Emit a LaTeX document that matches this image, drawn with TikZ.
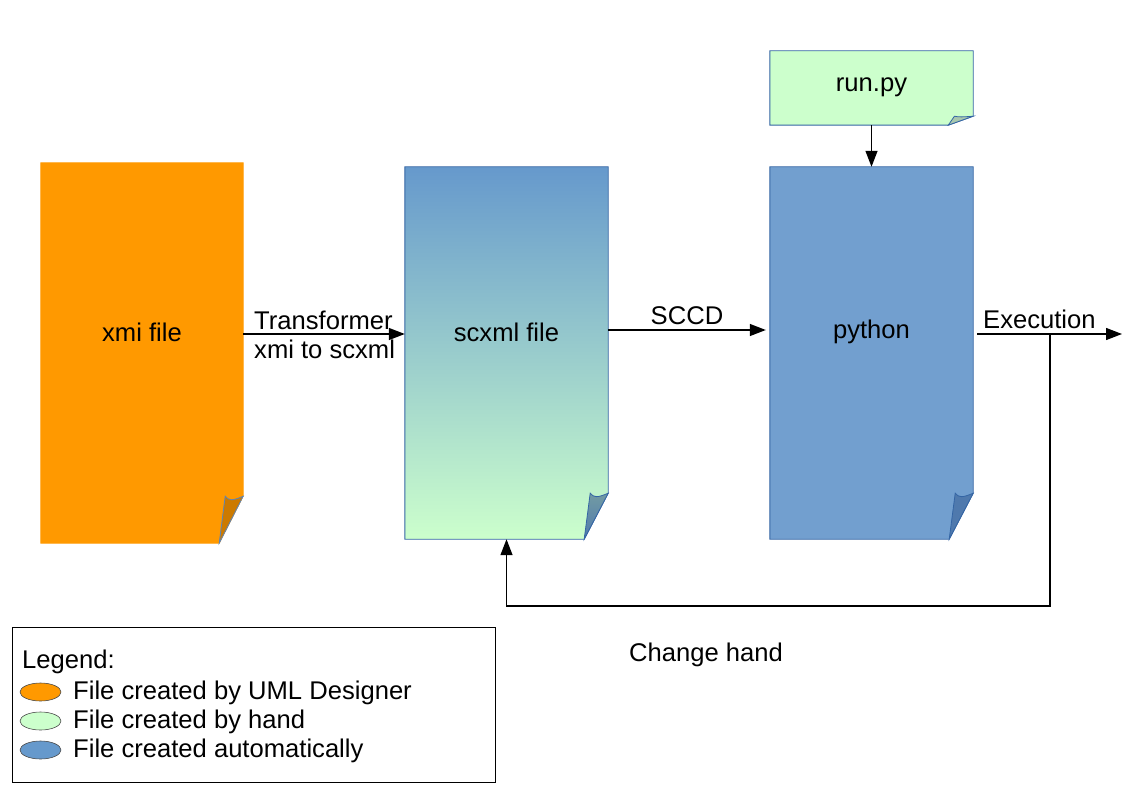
\documentclass[tikz,border=0pt]{standalone}
\usepackage{fontspec}
\setmainfont{Liberation Sans}
\usetikzlibrary{arrows.meta,shapes.geometric}
\definecolor{orng}{HTML}{FF9900}
\definecolor{orngdark}{HTML}{CC7A00}
\definecolor{lgreen}{HTML}{CCFFCC}
\definecolor{sblue}{HTML}{6699CC}
\definecolor{pyblue}{HTML}{729FCF}
\definecolor{bord}{HTML}{3465A4}
\definecolor{flapgreen}{HTML}{A8C8AE}
\definecolor{flapblue}{HTML}{4F79AD}
\newcommand\docshape[5]{%
  \path[#2] (#1.north west) -- (#1.north east) -- ([yshift=#5]#1.south east)
    -- ([xshift=-#4]#1.south east) -- (#1.south west) -- cycle;
  \path[#3] ([xshift=-#4]#1.south east) -- ([xshift=-0.75*#4,yshift=#5]#1.south east)
    .. controls ([xshift=-0.6*#4,yshift=0.9*#5]#1.south east) and ([xshift=-0.45*#4,yshift=0.9*#5]#1.south east)
    .. ([yshift=#5]#1.south east) -- cycle;
}
\begin{document}
\begin{tikzpicture}[x=1pt,y=-1pt,
  every node/.style={font=\fontsize{25.6}{30}\selectfont, inner sep=0pt},
  box/.style={rectangle, draw=none, minimum width=#1},
  arr/.style={line width=1.3pt, -{Triangle[length=16pt,width=12pt]}},
  leg/.style={ellipse, draw=black!70, line width=0.6pt, minimum width=41pt, minimum height=18pt}
]
\useasboundingbox (0,0) rectangle (1123,794);
% boxes
\node[box=202pt, minimum height=380pt] (xmi) at (142,353) {};
\node[box=203pt, minimum height=372pt] (scxml) at (506.5,353) {};
\node[box=203pt, minimum height=372pt] (python) at (871.5,353) {};
\node[box=203pt, minimum height=74pt] (runpy) at (871.5,88) {};
\docshape{xmi}{fill=orng, draw=orng, line width=0.8pt}{fill=orngdark, draw=bord!80, line width=0.8pt}{24pt}{47pt}
\docshape{scxml}{top color=sblue, bottom color=lgreen, draw=bord, line width=0.9pt}{top color=sblue!60!lgreen!80!black, bottom color=flapblue, draw=bord, line width=0.8pt}{24pt}{46pt}
\docshape{python}{fill=pyblue, draw=bord, line width=0.9pt}{fill=flapblue, draw=bord, line width=0.8pt}{24pt}{46pt}
\docshape{runpy}{fill=lgreen, draw=bord, line width=0.9pt}{fill=flapgreen, draw=bord, line width=0.8pt}{25pt}{9pt}
% labels in boxes
\node (xmilbl) at (142,332) {xmi file};
\node (scxmllbl) at (506.5,332) {scxml file};
\node (pylbl) at (871.5,332) {python};
\node (runlbl) at (871.5,87) {run.py};
% connectors
\draw[arr] ([yshift=19pt]xmi.east) -- ([yshift=19pt]scxml.west);
\node[anchor=base west] (tlbl1) at (254,329) {Transformer};
\node[anchor=base west] (tlbl2) at (254,358) {xmi to scxml};
\draw[arr] ([yshift=23pt]scxml.east) -- ([xshift=-4pt,yshift=23pt]python.west);
\node[anchor=base] (sccd) at (687,324) {SCCD};
\draw[arr] (runpy.south) -- (python.north);
\coordinate (exeend) at (1122,334);
\coordinate (branch) at (1050,334);
\coordinate (fbcorner) at (1050,606);
\draw[arr] ([xshift=4pt,yshift=19pt]python.east) -- (exeend);
\node[anchor=base west] (exelbl) at (983,328) {Execution};
\draw[arr] (branch) -- (fbcorner) -| (scxml.south);
\node[anchor=base west] (chg) at (629,661) {Change hand};
% legend
\node[draw=black, line width=0.9pt, minimum width=483pt, minimum height=155pt] (legend) at (253.5,704.5) {};
\node[anchor=base west] (leghead) at (22,668) {Legend:};
\node[leg, fill=orng] (e1) at (40.5,692) {};
\node[leg, fill=lgreen] (e2) at (40.5,721) {};
\node[leg, fill=sblue] (e3) at (40.5,750) {};
\node[anchor=base west] (l1) at (73,699) {File created by UML Designer};
\node[anchor=base west] (l2) at (73,728) {File created by hand};
\node[anchor=base west] (l3) at (73,757) {File created automatically};
\end{tikzpicture}
\end{document}
